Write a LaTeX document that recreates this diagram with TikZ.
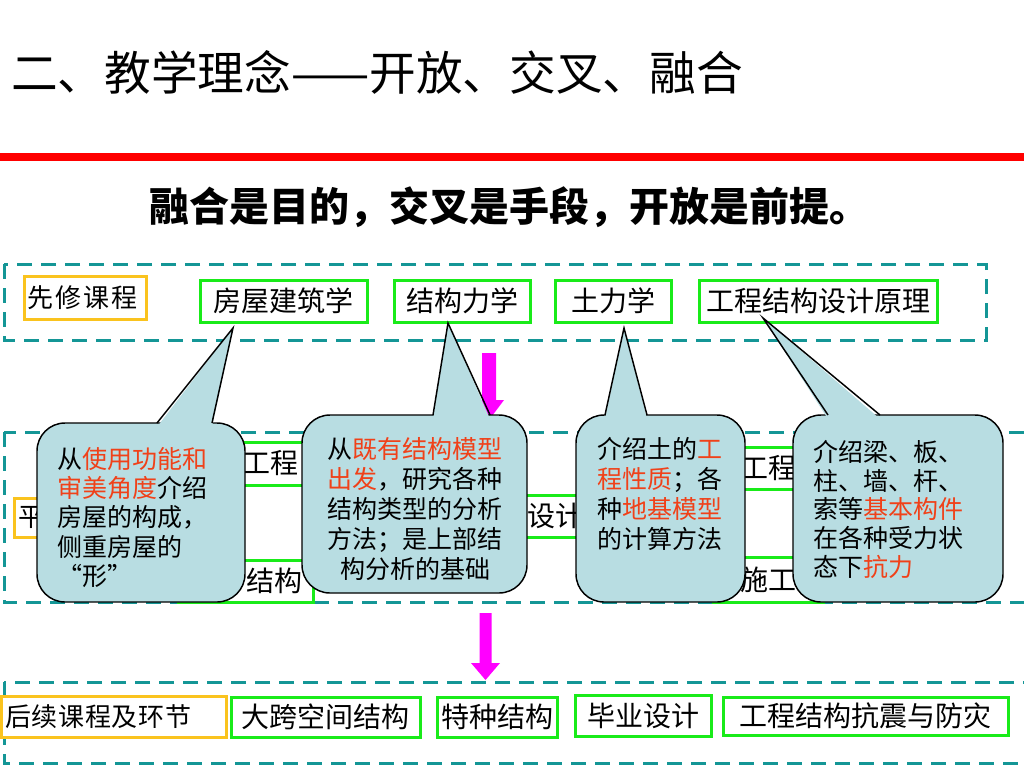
\documentclass[tikz,border=0pt]{standalone}
\usepackage{fontspec}
\newfontfamily\cjk{Noto Sans CJK SC}
\definecolor{teal2}{RGB}{20,150,150}
\definecolor{grn}{RGB}{25,235,25}
\definecolor{org}{RGB}{250,195,30}
\definecolor{bub}{RGB}{184,221,226}
\definecolor{rtxt}{RGB}{240,65,25}
\definecolor{mag}{RGB}{255,0,255}
\newcommand\rt[1]{{\color{rtxt}#1}}
\tikzset{
  dashbox/.style={draw=teal2, line width=2.25pt, dash pattern=on 11pt off 7pt},
  gbox/.style={draw=grn, line width=2.25pt, fill=white, inner sep=0pt, font=\cjk\fontsize{21}{25}\selectfont},
  obox/.style={draw=org, line width=2.25pt, fill=white, inner sep=0pt},
  btxt/.style={font=\cjk\fontsize{21}{25}\selectfont, inner sep=0pt},
  otxt/.style={font=\cjk\fontsize{19.5}{23}\selectfont, inner sep=0pt},
  bubfill/.style={fill=bub, draw=black, line width=1.1pt, rounded corners=21pt},
  bubtxt/.style={font=\cjk\fontsize{18.75}{22}\selectfont, inner sep=0pt},
  arrowfill/.style={fill=mag}
}
\begin{document}
\begin{tikzpicture}[x=0.75pt,y=-0.75pt]
\useasboundingbox (0,0) rectangle (1024,768);
\clip (0,0) rectangle (1024,768);
\fill[white] (0,0) rectangle (1024,768);

% title
\node[font=\cjk\fontsize{35}{40}\selectfont, anchor=west, inner sep=0pt] (title) at (11,72) {二、教学理念——开放、交叉、融合};
\fill[red] (0,153) rectangle (1024,161);
\node[font=\cjk\bfseries\fontsize{30}{35}\selectfont, inner sep=0pt] (sub) at (509,207) {融合是目的，交叉是手段，开放是前提。};

% dashed groups
\draw[dashbox] (4,264) rectangle (986,340);
\draw[dashbox] (4,432) rectangle (1040,602);
\draw[dashbox] (4,682) rectangle (1040,763);

% top row
\node[obox, minimum width=91.5pt, minimum height=32.25pt] (pre) at (85,297.5) {};
\node[otxt, anchor=west] (pret) at (27,297.5) {先\hspace{1.5pt}修\hspace{1.5pt}课\hspace{1.5pt}程};
\node[gbox, minimum width=125.25pt, minimum height=31.5pt] (c1) at (283.5,301) {房屋建筑学};
\node[gbox, minimum width=102pt, minimum height=31.5pt] (c2) at (462,301) {结构力学};
\node[gbox, minimum width=87pt, minimum height=31.5pt] (c3) at (613,301) {土力学};
\node[gbox, minimum width=178.5pt, minimum height=31.5pt] (c4) at (818,301) {工程结构设计原理};

% middle row (partly hidden)
\node[obox, minimum width=94pt, minimum height=29.25pt] (mid) at (77.5,517.5) {};
\node[otxt, anchor=west] (midt) at (18,517.5) {平};
\node[gbox, minimum width=120pt, minimum height=32.25pt] (mA) at (270,463.5) {工程};
\node[gbox, minimum width=101.25pt, minimum height=31.5pt] (mB) at (245.5,581) {};
\node[btxt] (mBt) at (274,581) {结构};
\node[gbox, minimum width=112.5pt, minimum height=31.5pt] (mC) at (555,516) {设计};
\node[gbox, minimum width=102pt, minimum height=31.5pt] (mD) at (768,468) {工程};
\node[gbox, minimum width=82.5pt, minimum height=33.75pt] (mE) at (768,579.5) {施工};

% bottom row
\node[obox, minimum width=168.75pt, minimum height=30.75pt] (post) at (113.5,716.5) {};
\node[otxt, anchor=west] (postt) at (5,716.5) {后\hspace{0.5pt}续\hspace{0.5pt}课\hspace{0.5pt}程\hspace{0.5pt}及\hspace{0.5pt}环\hspace{0.5pt}节};
\node[gbox, minimum width=141.75pt, minimum height=30pt] (d1) at (325.5,717) {大跨空间结构};
\node[gbox, minimum width=90pt, minimum height=30pt] (d2) at (497,717) {特种结构};
\node[gbox, minimum width=102pt, minimum height=30.75pt] (d3) at (643,715.5) {毕业设计};
\node[gbox, minimum width=213.75pt, minimum height=28.5pt] (d4) at (865.5,716) {工程结构抗震与防灾};

% magenta arrows
\coordinate (a1) at (489,353);
\coordinate (a2) at (485.5,613);
\fill[arrowfill] (482,353) -- (496,353) -- (496,400) -- (504,400) -- (489,420) -- (474,400) -- (482,400) -- cycle;
\fill[arrowfill] (479.5,613) -- (491.5,613) -- (491.5,663) -- (500,663) -- (485.5,680) -- (471,663) -- (479.5,663) -- cycle;

% bubble 1
\draw[bubfill] (37,423) rectangle (245,602);
\fill[bub] (157,427) -- (233,328) -- (212,427) -- cycle;
\draw[line width=1.1pt] (157,423) -- (233,328) -- (212,423);
% bubble 2
\draw[bubfill] (302,415) rectangle (527,593);
\fill[bub] (433,419) -- (448,323) -- (490,419) -- cycle;
\draw[line width=1.1pt] (433,415) -- (448,323) -- (490,415);
% bubble 3
\draw[bubfill] (576,415) rectangle (745,602);
\fill[bub] (605,419) -- (624,328) -- (647,419) -- cycle;
\draw[line width=1.1pt] (605,415) -- (624,328) -- (647,415);
% bubble 4
\draw[bubfill] (793,415) rectangle (1003,602);
\fill[bub] (828,419) -- (763,318) -- (880,419) -- cycle;
\draw[line width=1.1pt] (828,415) -- (763,318) -- (880,415);

% bubble texts
\node[bubtxt, anchor=north west, align=left] (t1) at (57,447) {从\rt{使用功能和}\\\rt{审美角度}介绍\\房屋的构成，\\侧重房屋的\\“形”};
\node[bubtxt, anchor=north, align=center, font=\cjk\fontsize{18.75}{22.5}\selectfont] (t2) at (415,437) {从\rt{既有结构模型}\\\rt{出发}，研究各种\\结构类型的分析\\方法；是上部结\\构分析的基础};
\node[bubtxt, anchor=north west, align=left, font=\cjk\fontsize{18.75}{22.5}\selectfont] (t3) at (597,437) {介绍土的\rt{工}\\\rt{程性质}；各\\种\rt{地基模型}\\的计算方法};
\node[bubtxt, anchor=north west, align=left, font=\cjk\fontsize{18.75}{21.5}\selectfont] (t4) at (813,440) {介绍梁、板、\\柱、墙、杆、\\索等\rt{基本构件}\\在各种受力状\\态下\rt{抗力}};
\end{tikzpicture}
\end{document}
